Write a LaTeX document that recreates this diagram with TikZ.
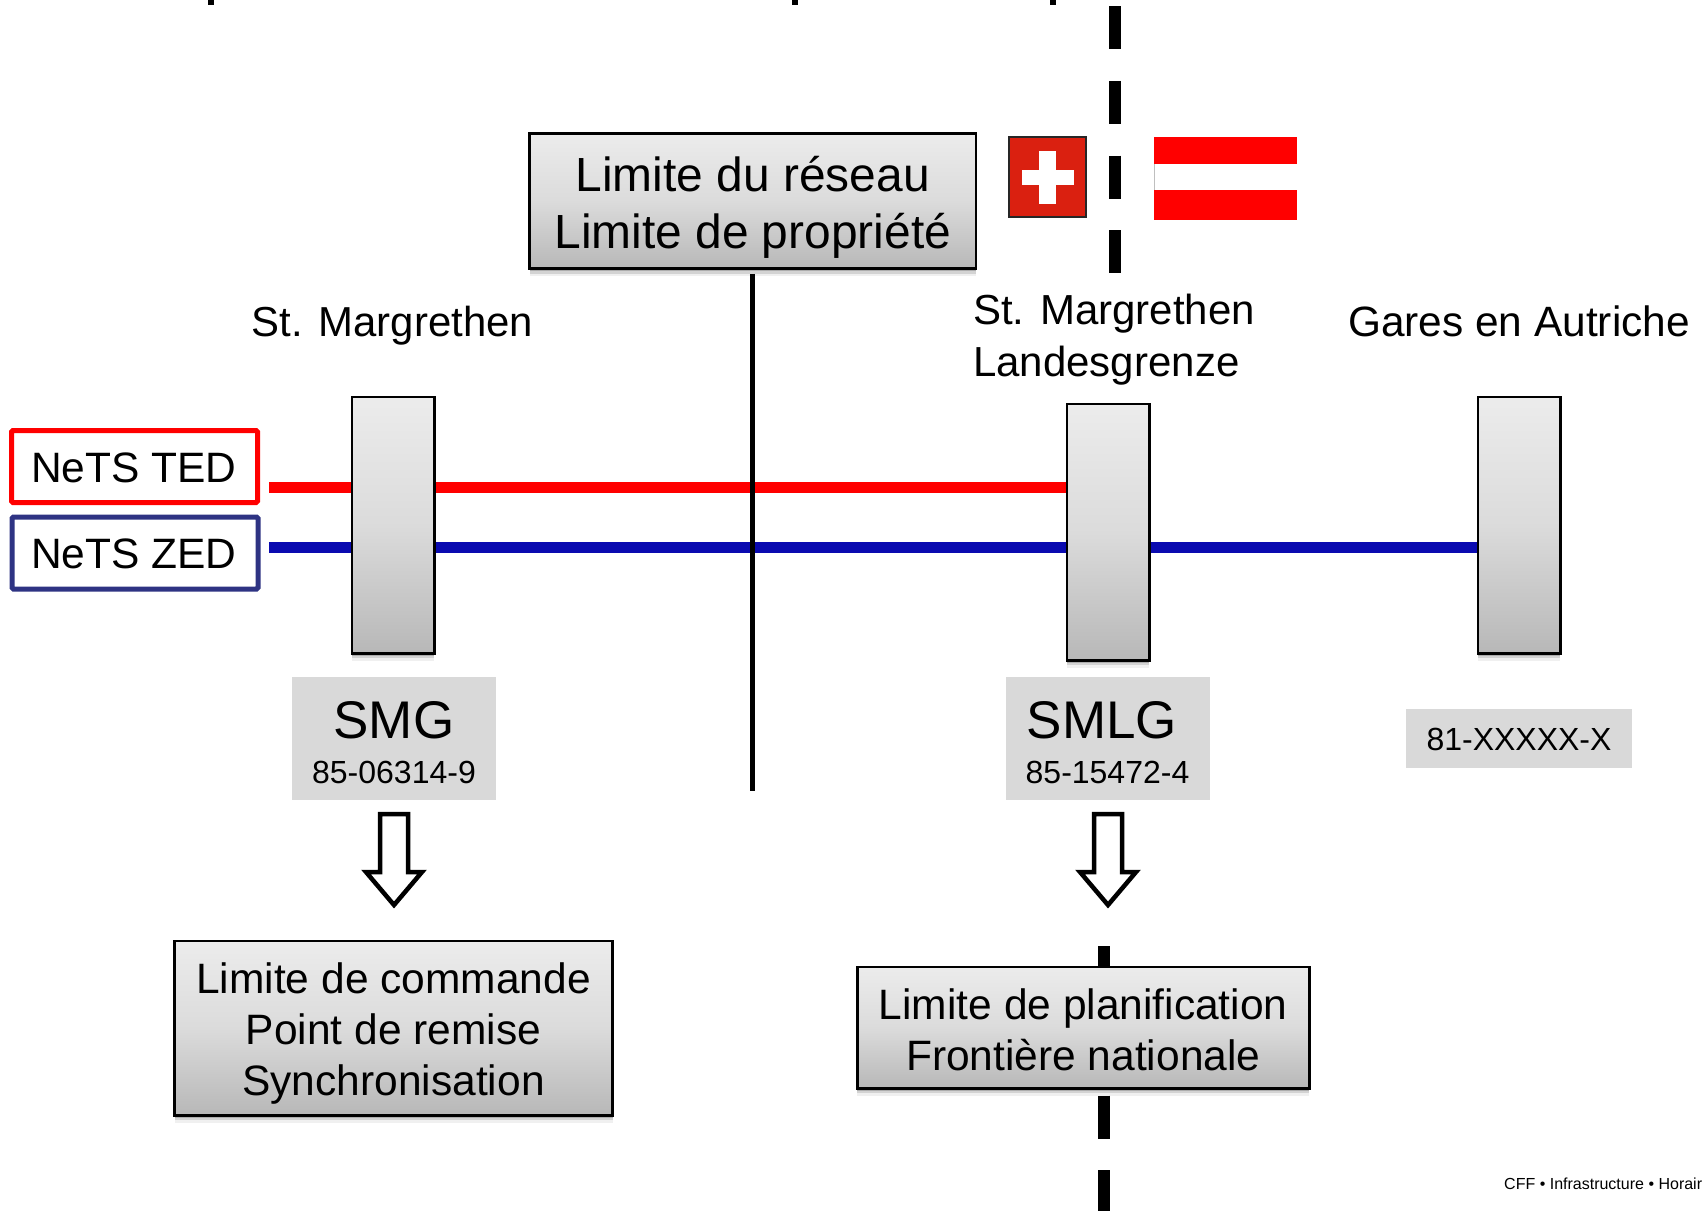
\documentclass[tikz,border=0pt]{standalone}
\usepackage{fontspec}
\setmainfont{Liberation Sans}
\usetikzlibrary{shadows,calc}
\definecolor{swissred}{HTML}{DA2010}
\definecolor{tedred}{HTML}{FF0000}
\definecolor{zedblue}{HTML}{0A0AB0}
\definecolor{zedframe}{HTML}{2E3383}
\definecolor{idgrey}{HTML}{D9D9D9}
\tikzset{
  softshadow/.style={
    general shadow={shadow yshift=-2.5pt,fill=black,opacity=.18},
    general shadow={shadow yshift=-5pt,fill=black,opacity=.12},
    general shadow={shadow yshift=-7.5pt,fill=black,opacity=.06}},
  greybox/.style={draw=black,line width=2.5pt,top color=gray!15!white,bottom color=black!28,
    middle color=black!14,inner sep=0pt,align=center,softshadow},
  stubbox/.style={greybox,minimum width=82.5pt},
  labelbox/.style={greybox,font=\fontsize{42.5}{51}\selectfont},
  netsbox/.style={draw,line width=5pt,rounded corners=1.5pt,fill=white,inner sep=0pt,
    minimum width=246pt,minimum height=72pt},
  netstext/.style={inner sep=0pt,font=\fontsize{42.5}{50}\selectfont},
  idbox/.style={fill=idgrey,inner sep=0pt},
  caption/.style={inner sep=0pt,font=\fontsize{42.4}{52}\selectfont},
  codetext/.style={inner sep=0pt,anchor=base,font=\fontsize{53}{60}\selectfont},
  numtext/.style={inner sep=0pt,anchor=base,font=\fontsize{32}{38}\selectfont},
  border/.style={line width=11.5pt,black,dash pattern=on 43pt off 31.8pt},
  track/.style={line width=11pt},
  blockarrow/.style={draw=black,line width=4.5pt,fill=white,miter limit=10}
}
\begin{document}
\begin{tikzpicture}[x=1pt,y=-1pt]
\useasboundingbox (0,0) rectangle (1702,1210);
% fragments of cut-off title
\fill[black] (208,0) rectangle (214,5);
\fill[black] (792,0) rectangle (798,5);
\fill[black] (1050,0) rectangle (1056,5);
% national border
\coordinate (bordertop) at (1115,6);
\coordinate (borderend) at (1115,273);
\coordinate (lowtop) at (1104,946);
\coordinate (lowend) at (1104,1213);
\draw[border] (bordertop) -- (borderend);
\draw[border] (lowtop) -- (lowend);
% boxes
\node[greybox,minimum width=446.5pt,minimum height=135pt,font=\fontsize{47.9}{57.5}\selectfont] (limite) at (752.75,201) {\rule{0pt}{48pt}Limite du réseau\\Limite de propriété};
\node[stubbox,minimum height=256.5pt] (smg) at (393,525) {};
\node[stubbox,minimum height=256.5pt] (smlg) at (1108,532) {};
\node[stubbox,minimum height=256.5pt] (aut) at (1519,525) {};
\node[labelbox,minimum width=438pt,minimum height=174.5pt] (cmd) at (393.5,1028) {\rule{0pt}{42pt}Limite de commande\\Point de remise\\Synchronisation};
\node[labelbox,minimum width=452pt,minimum height=121.5pt] (plan) at (1083.25,1027.5) {\rule{0pt}{35pt}Limite de planification\\Frontière nationale};
% flags
\node[fill=swissred,draw=black!85,line width=2pt,minimum width=77pt,minimum height=80pt,inner sep=0pt] (ch) at (1047.5,177) {};
\fill[white] (1039,151) rectangle (1056,204);
\fill[white] (1022,170) rectangle (1074,185);
\node[fill=tedred,minimum width=143pt,minimum height=83pt,inner sep=0pt] (at) at (1225.5,178.5) {};
\fill[white] (1154,164) rectangle (1297,190);
\draw[black!25,line width=.6pt] (1154.3,164) -- (1154.3,190);
% legends
\node[netsbox,draw=tedred] (ted) at (134.5,466.5) {};
\node[netstext] (tedtext) at (134,467.5) {NeTS TED};
\node[netsbox,draw=zedframe] (zed) at (135,553) {};
\node[netstext] (zedtext) at (134,554) {NeTS ZED};
% tracks
\coordinate (tedstart) at (269,487);
\coordinate (zedstart) at (269,547.5);
\draw[track,tedred] (tedstart) -- (tedstart -| smg.west);
\draw[track,tedred] (tedstart -| smg.east) -- (tedstart -| smlg.west);
\draw[track,zedblue] (zedstart) -- (zedstart -| smg.west);
\draw[track,zedblue] (zedstart -| smg.east) -- (zedstart -| smlg.west);
\draw[track,zedblue] (zedstart -| smlg.east) -- (zedstart -| aut.west);
% network limit
\coordinate (limend) at (752.75,791);
\draw[line width=5pt,black] ([yshift=-4pt]limite.south) -- (limite.south |- limend);
% station names
\node[caption,anchor=base,font=\fontsize{41.9}{52}\selectfont] (n1) at (392.5,336.5) {St. Margrethen};
\node[caption,anchor=base] (n3) at (1519,336.5) {Gares en Autriche};
\node[caption,align=left,anchor=west,font=\fontsize{42}{52}\selectfont] (n2) at (973,340) {St. Margrethen\\Landesgrenze};
% station codes
\node[idbox,minimum width=204pt,minimum height=123pt] (smgid) at (394,738.5) {};
\node[codetext] (smgcode) at (394,738) {SMG};
\node[numtext] (smgnum) at (394,783) {85-06314-9};
\node[idbox,minimum width=204pt,minimum height=123pt] (smlgid) at (1108,738.5) {};
\node[codetext] (smlgcode) at (1102,738) {SMLG};
\node[numtext] (smlgnum) at (1107.5,783) {85-15472-4};
\node[idbox,minimum width=226pt,minimum height=59pt] (autid) at (1519,738.5) {};
\node[numtext] (autnum) at (1519,750) {81-XXXXX-X};
% block arrows
\draw[blockarrow] (380,814) -- (408,814) -- (408,872) -- (422,872) -- (394,905) -- (366,872) -- (380,872) -- cycle;
\draw[blockarrow] (1094,814) -- (1122,814) -- (1122,872) -- (1136,872) -- (1108,905) -- (1080,872) -- (1094,872) -- cycle;
% footer
\node[inner sep=0pt,anchor=base west,font=\fontsize{16}{19}\selectfont] (foot) at (1504,1189.5) {CFF • Infrastructure • Horair};
\end{tikzpicture}
\end{document}
